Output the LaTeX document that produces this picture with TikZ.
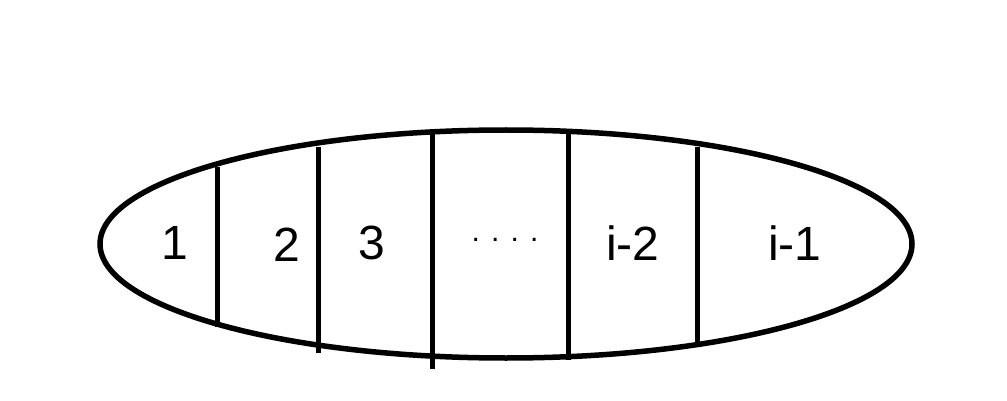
\documentclass[tikz,border=0pt]{standalone}
\usepackage{fontspec}
\setmainfont{Liberation Sans}
\begin{document}
\begin{tikzpicture}[x=1pt,y=-1pt,
  outline/.style={line width=5.5pt},
  divider/.style={line width=5pt},
  lbl/.style={inner sep=0pt,font=\fontsize{48}{50}\selectfont}]
\useasboundingbox (0,0) rectangle (1007,401);
\draw[outline] (506,244) ellipse [x radius=406, y radius=114];
\coordinate (t1) at (217,167); \coordinate (b1) at (217,327);
\coordinate (t2) at (318,147); \coordinate (b2) at (318,353);
\coordinate (t3) at (432,132); \coordinate (b3) at (432,369);
\coordinate (t4) at (568,132); \coordinate (b4) at (568,360);
\coordinate (t5) at (697,147); \coordinate (b5) at (697,347);
\foreach \i in {1,...,5} \draw[divider] (t\i) -- (b\i);
\node[lbl] (l1) at (175,243) {1};
\node[lbl] (l2) at (287,245) {2};
\node[lbl] (l3) at (372,243) {3};
\node[lbl,font=\fontsize{30}{32}\selectfont] (l4) at (505,240) {. . . .};
\node[lbl] (l5) at (633,243) {i-2};
\node[lbl] (l6) at (795,243) {i-1};
\end{tikzpicture}
\end{document}
